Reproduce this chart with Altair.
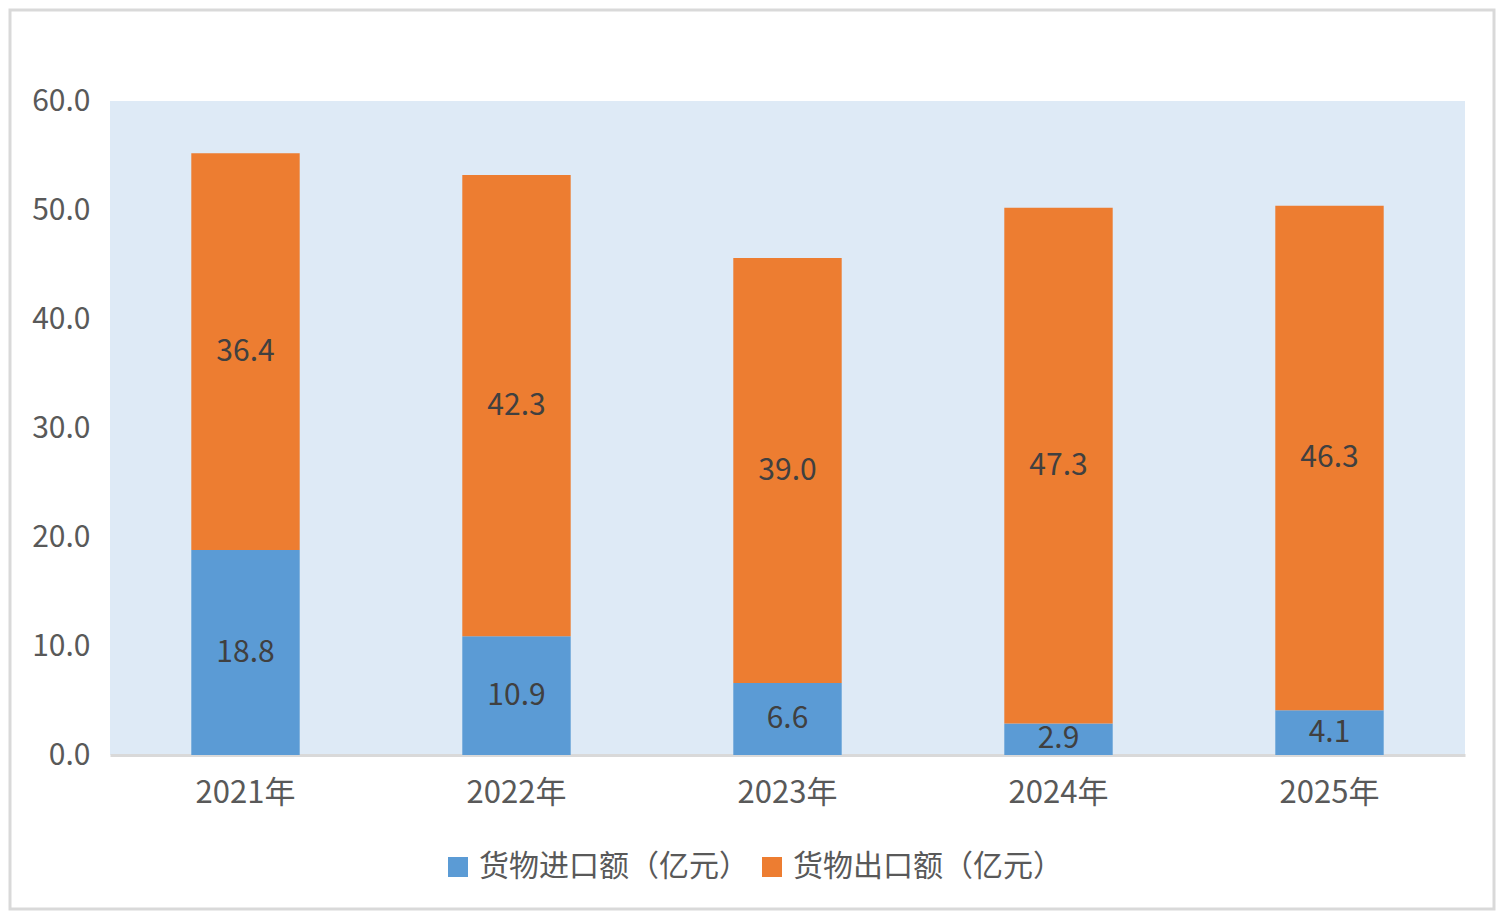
import altair as alt
import pandas as pd

years = ["2021年", "2022年", "2023年", "2024年", "2025年"]
imports = [18.8, 10.9, 6.6, 2.9, 4.1]
exports = [36.4, 42.3, 39.0, 47.3, 46.3]
series = ["货物进口额（亿元）", "货物出口额（亿元）"]
colors = ["#5B9BD5", "#ED7D31"]
y_ticks = [0, 10, 20, 30, 40, 50, 60]

rows = []
for i, yr in enumerate(years):
    rows.append({"year": yr, "series": series[0], "value": imports[i], "order": 0})
    rows.append({"year": yr, "series": series[1], "value": exports[i], "order": 1})
df = pd.DataFrame(rows)

FONT = "Noto Sans CJK SC"
W, H = 1355, 654
PL, PT, PR, PB = 102, 93, 31, 156

base = alt.Chart(df).transform_stack(
    stack="value", groupby=["year"], as_=["v0", "v1"],
    sort=[alt.SortField("order", order="ascending")]
).transform_calculate(mid="(datum.v0 + datum.v1) / 2")

xenc = alt.X(
    "year:N", sort=years,
    scale=alt.Scale(paddingInner=0.6, paddingOuter=0.3),
    axis=alt.Axis(title=None, labelAngle=0, ticks=False, domainColor="#d9d9d9",
                  domainWidth=3, labelFontSize=31, labelColor="#595959",
                  labelPadding=23, labelFont=FONT),
)

bars = base.mark_bar().encode(
    x=xenc,
    y=alt.Y("v0:Q", scale=alt.Scale(domain=[0, 60]),
            axis=alt.Axis(title=None, values=y_ticks, format=".1f", grid=False,
                          domain=False, ticks=False, labelPadding=20,
                          labelFontSize=30, labelColor="#595959", labelFont=FONT)),
    y2="v1:Q",
    color=alt.Color(
        "series:N",
        scale=alt.Scale(domain=series, range=colors),
        sort=series,
        legend=alt.Legend(title=None, orient="none", legendX=333, legendY=751,
                          direction="horizontal", symbolType="square",
                          symbolSize=400, symbolStrokeWidth=0,
                          labelFontSize=30, labelFont=FONT, labelColor="#595959",
                          labelOffset=6, columnPadding=8, padding=0,
                          labelLimit=0),
    ),
)

labels = base.mark_text(font=FONT, fontSize=30, color="#404040").encode(
    x=alt.X("year:N", sort=years),
    y=alt.Y("mid:Q"),
    text=alt.Text("value:Q", format=".1f"),
)

border = alt.Chart(pd.DataFrame({"a": [0]})).mark_rect(
    fillOpacity=0, stroke="#d9d9d9", strokeWidth=3
).encode(
    x=alt.value(-PL + 2), x2=alt.value(W + PR - 2),
    y=alt.value(-PT + 2), y2=alt.value(H + PB - 2),
)

chart = alt.layer(bars, labels, border).properties(
    width=W, height=H,
    autosize=alt.AutoSizeParams(type="none"),
    padding={"left": PL, "top": PT, "right": PR, "bottom": PB},
    background="white",
).configure_view(fill="#DEEAF6", strokeWidth=0)

chart.save("out.html", embed_options={"renderer": "svg", "actions": False})
